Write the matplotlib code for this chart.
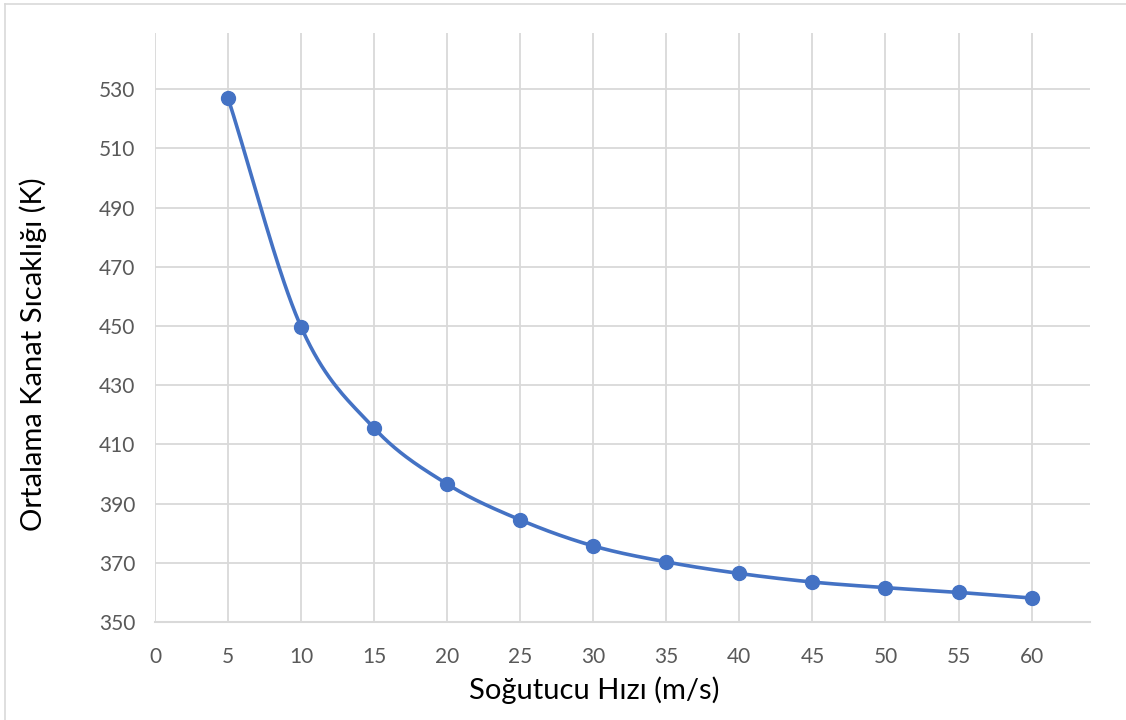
import numpy as np
import matplotlib
matplotlib.use("Agg")
import matplotlib.pyplot as plt
from matplotlib.lines import Line2D

# Data
speed = [5, 10, 15, 20, 25, 30, 35, 40, 45, 50, 55, 60]
temperature = [527.0, 449.7, 415.5, 396.6, 384.5, 375.7, 370.3, 366.4, 363.5, 361.6, 360.0, 358.1]
x_ticks = [0, 5, 10, 15, 20, 25, 30, 35, 40, 45, 50, 55, 60]
y_ticks = [350, 370, 390, 410, 430, 450, 470, 490, 510, 530]
x_label = "Soğutucu Hızı (m/s)"
y_label = "Ortalama Kanat Sıcaklığı (K)"

plt.rcParams['font.family'] = ['Lato', 'DejaVu Sans']

def smooth_curve(xs, ys, n=40):
    # Catmull-Rom style smoothing (Excel "smoothed line" look)
    xs = np.asarray(xs, float); ys = np.asarray(ys, float)
    P = np.column_stack([xs, ys])
    P = np.vstack([P[0] - (P[1] - P[0]), P, P[-1] + (P[-1] - P[-2])])
    out = []
    for i in range(1, len(P) - 2):
        p0, p1, p2, p3 = P[i - 1], P[i], P[i + 1], P[i + 2]
        t = np.linspace(0, 1, n)[:, None]
        m1 = (p2 - p0) / 6.0
        m2 = (p3 - p1) / 6.0
        b0 = p1; b1 = p1 + m1; b2 = p2 - m2; b3 = p2
        seg = ((1 - t) ** 3) * b0 + 3 * ((1 - t) ** 2) * t * b1 + 3 * (1 - t) * t ** 2 * b2 + t ** 3 * b3
        out.append(seg if i == 1 else seg[1:])
    c = np.vstack(out)
    return c[:, 0], c[:, 1]

fig = plt.figure(figsize=(11.26, 7.2), dpi=100)
ax = fig.add_axes([155 / 1126, 1 - 622 / 720, (1090 - 155) / 1126, (622 - 33) / 720])

blue = "#4472C4"
grid = "#D9D9D9"

sx, sy = smooth_curve(speed, temperature)
ax.plot(sx, sy, color=blue, lw=2.6, solid_capstyle='round', zorder=3)
ax.plot(speed, temperature, 'o', color=blue, ms=10, zorder=4)

ax.set_xlim(0, 64)
ax.set_ylim(350, 549)
ax.set_xticks(x_ticks)
ax.set_yticks(y_ticks)
ax.grid(True, color=grid, lw=1.3)
ax.set_axisbelow(True)
for s in ['top', 'right', 'left']:
    ax.spines[s].set_visible(False)
ax.spines['bottom'].set_color(grid)
ax.spines['bottom'].set_linewidth(1.5)
ax.tick_params(length=0, labelsize=15, labelcolor="#595959", pad=18)
ax.tick_params(axis='y', pad=14)

ax.set_xlabel(x_label, fontsize=21, color="#000000")
ax.set_ylabel(y_label, fontsize=21, color="#000000")
ax.xaxis.set_label_coords((594 - 155) / 935, (622 - 676) / 589)
ax.yaxis.set_label_coords((47 - 155) / 935, (622 - 354) / 589)

# chart frame
fig.add_artist(Line2D([5 / 1126, 1], [1 - 4 / 720, 1 - 4 / 720], color="#D9D9D9", lw=1.2, transform=fig.transFigure))
fig.add_artist(Line2D([5 / 1126, 5 / 1126], [0, 1 - 4 / 720], color="#D9D9D9", lw=1.2, transform=fig.transFigure))

fig.savefig("out.png", dpi=100, facecolor="white")
